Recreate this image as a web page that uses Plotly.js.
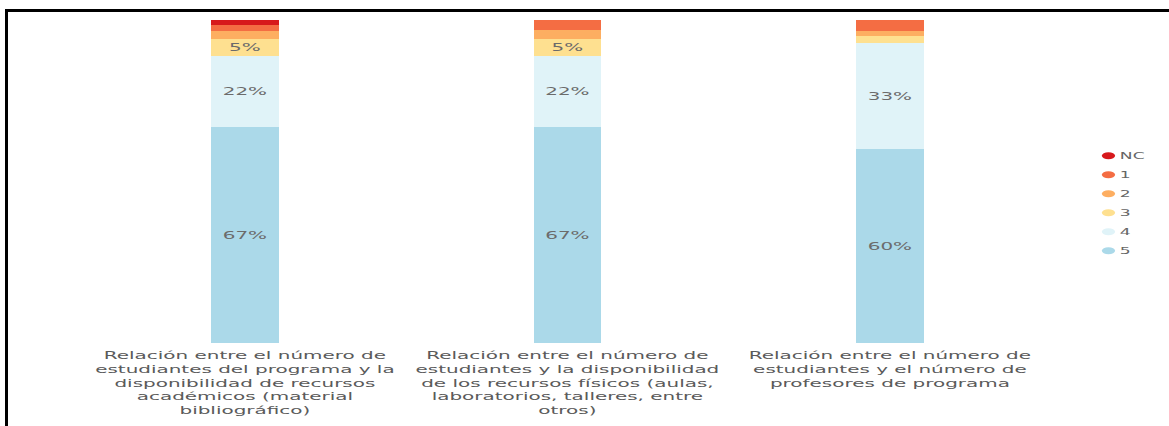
<!DOCTYPE html>
<html>
<head>
<meta charset="utf-8">
<script src="https://cdn.plot.ly/plotly-3.0.1.min.js"></script>
<style>
  html, body { margin: 0; padding: 0; background: #fff; overflow: hidden; }
  /* The chart is laid out narrow and stretched sideways to fill the window */
  #chart { position: absolute; left: 0; top: 0; width: 615px; height: 426px;
           transform: scaleX(1.9008); transform-origin: 0 0; }
  #frame { position: absolute; left: 5px; top: 9px; width: 1200px; height: 500px;
           border-top: 3px solid #000; border-left: 3px solid #000; }
  /* Pull legend labels closer to their round markers */
  #chart .legend .legendtext { transform: translateX(-14px); }
</style>
</head>
<body>
<div id="chart"></div>
<div id="frame"></div>
<script>
// Question labels (x categories)
const categories = [
  'Relación entre el número de<br>estudiantes del programa y la<br>disponibilidad de recursos<br>académicos (material<br>bibliográfico)',
  'Relación entre el número de<br>estudiantes y la disponibilidad<br>de los recursos físicos (aulas,<br>laboratorios, talleres, entre<br>otros)',
  'Relación entre el número de<br>estudiantes y el número de<br>profesores de programa'
];

// Share of answers (%) per rating, per question
const rating5  = [67, 67, 60];
const rating4  = [22, 22, 33];
const rating3  = [5, 5, 2];
const rating2  = [2.5, 3, 1.5];
const rating1  = [2, 3, 3.5];
const ratingNC = [1.5, 0, 0];

const seriesNames = ['5', '4', '3', '2', '1', 'NC'];
const seriesValues = [rating5, rating4, rating3, rating2, rating1, ratingNC];
const seriesColors = ['#abd9e9', '#e0f3f8', '#fee090', '#fdae61', '#f46d43', '#d7191c'];

const FONT = 'DejaVu Sans, Verdana, sans-serif';

const traces = [];
seriesValues.forEach((vals, i) => {
  traces.push({
    type: 'bar',
    x: categories,
    y: vals,
    name: seriesNames[i],
    marker: { color: seriesColors[i], line: { width: 0 } },
    text: vals.map(v => (v >= 5 ? Math.round(v) + '%' : '')),
    textposition: 'inside',
    insidetextanchor: 'middle',
    constraintext: 'none',
    textfont: { family: FONT, size: 10.5, color: '#6b6b6b' },
    hoverinfo: 'skip',
    showlegend: false,
    cliponaxis: false
  });
});

// Round legend markers, listed from NC down to 5
for (let i = seriesNames.length - 1; i >= 0; i--) {
  traces.push({
    type: 'scatter',
    mode: 'markers',
    x: [null], y: [null],
    name: seriesNames[i],
    marker: { color: seriesColors[i], size: 7, symbol: 'circle' },
    showlegend: true,
    hoverinfo: 'skip'
  });
}

const layout = {
  width: 615, height: 426,
  margin: { l: 44.2, r: 62.4, t: 20, b: 83 },
  barmode: 'stack',
  bargap: 0.79,
  paper_bgcolor: '#fff',
  plot_bgcolor: '#fff',
  font: { family: FONT, color: '#5a5a5a', size: 10.5 },
  xaxis: {
    type: 'category',
    range: [-0.5, 2.5],
    showgrid: false, zeroline: false, showline: false, ticks: '',
    tickfont: { family: FONT, size: 10.5, color: '#5a5a5a' },
    ticklabelstandoff: 5,
    automargin: false
  },
  yaxis: {
    range: [0, 100],
    visible: false,
    fixedrange: true
  },
  legend: {
    xref: 'container', yref: 'container',
    x: 0.9157, xanchor: 'left',
    y: 0.523, yanchor: 'middle',
    traceorder: 'normal',
    font: { family: FONT, size: 9, color: '#666' },
    itemwidth: 30,
    bgcolor: 'rgba(0,0,0,0)'
  },
  showlegend: true
};

Plotly.newPlot('chart', traces, layout, { displayModeBar: false, staticPlot: true });
</script>
</body>
</html>
